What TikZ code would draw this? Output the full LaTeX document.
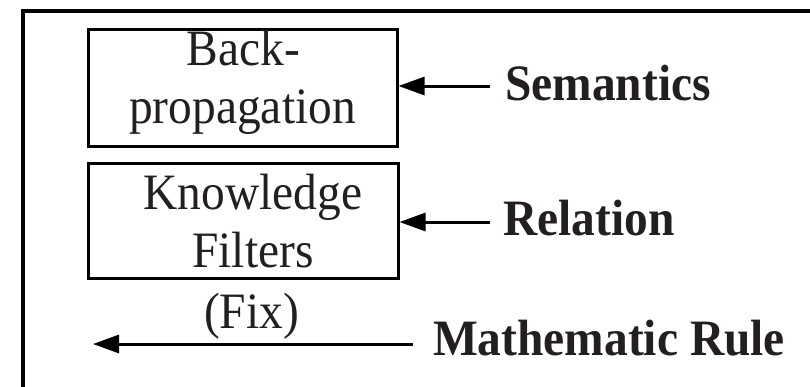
\documentclass[tikz,border=0pt]{standalone}
\usepackage{fontspec}
\setmainfont[FakeStretch=0.93]{Liberation Serif}
\usetikzlibrary{arrows.meta}
\definecolor{ink}{RGB}{35,31,32}
\begin{document}
\begin{tikzpicture}[x=1pt,y=-1pt,
  box/.style={draw, line width=3pt, inner sep=0pt},
  plain/.style={font=\fontsize{51}{58}\selectfont, text=ink, inner sep=0pt, anchor=base},
  tag/.style={font=\fontsize{51}{58}\selectfont\bfseries, text=ink, inner sep=0pt, anchor=base west},
  feed/.style={line width=3pt, -{Triangle[length=26pt,width=18pt]}}]
\useasboundingbox (0,0) rectangle (810,386);
% outer frame, running off the right and bottom edges
\begin{scope}
  \clip (0,0) rectangle (810,386);
  \draw[line width=3.8pt] (23,420) -- (23,11) -- (840,11);
\end{scope}

% boxes
\node[box, minimum width=309pt, minimum height=117pt] (bp) at (242.5,87.5) {};
\node[box, minimum width=310pt, minimum height=115pt] (kf) at (243,220.5) {};

% box texts
\node[plain] (bp1) at (243.5,65) {Back-};
\node[plain] (bp2) at (242.5,123) {propagation};
\node[plain] (kf1) at (253,209) {Knowledge};
\node[plain] (kf2) at (253,267) {Filters};
\node[plain] (fix) at (251.5,328) {(Fix)};

% side labels
\node[tag] (sem) at (505,100) {Semantics};
\node[tag] (rel) at (503,235) {Relation};
\node[tag] (math) at (433,355) {Mathematic Rule};

% arrows
\coordinate (s1) at (490,86);
\coordinate (r1) at (490,222);
\coordinate (m1) at (413,344);
\coordinate (m0) at (93,344);
\draw[feed] (s1) -- (s1 -| bp.east);
\draw[feed] (r1) -- (r1 -| kf.east);
\draw[feed] (m1) -- (m0);
\end{tikzpicture}
\end{document}
